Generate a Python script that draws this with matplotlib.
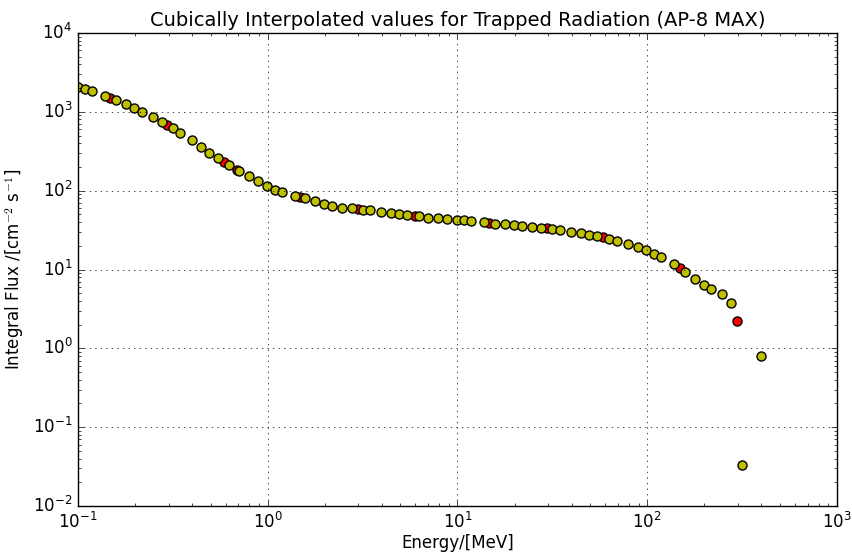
import matplotlib
matplotlib.use("Agg")
import matplotlib.pyplot as plt

plt.style.use("classic")

# Original AP-8 MAX data points (red)
orig_energy = [0.148, 0.296, 0.586, 0.688, 1.48, 2.99, 5.95, 14.7, 29.7, 58.6, 148.8, 296]
orig_flux = [1503, 682, 229, 182, 83, 58.6, 47.7, 38.9, 33.2, 25.5, 10.4, 2.21]

# Cubically interpolated values (yellow)
interp_energy = [0.100, 0.109, 0.118, 0.138, 0.159, 0.178, 0.197, 0.217, 0.248, 0.277,
                 0.316, 0.346, 0.397, 0.446, 0.489, 0.545, 0.625, 0.703, 0.792, 0.891,
                 0.99, 1.09, 1.19, 1.39, 1.58, 1.78, 1.99, 2.18, 2.47, 2.77,
                 3.17, 3.47, 3.96, 4.45, 4.92, 5.42, 6.24, 6.98, 7.91, 8.82,
                 9.88, 10.8, 11.8, 13.8, 15.8, 17.8, 19.8, 21.9, 24.7, 27.7,
                 31.5, 34.8, 39.8, 44.6, 49.3, 54.3, 62.5, 69.5, 79.1, 88.9,
                 98.7, 108.7, 118.8, 138.4, 157.9, 177.5, 198, 218, 247, 277,
                 317, 396]
interp_flux = [2090, 1970, 1845, 1607, 1418, 1262, 1123, 1007, 863, 752,
               618, 540, 435, 362, 304, 262, 209, 179.5, 155, 133,
               116, 103, 96, 85.7, 79.8, 74, 68.4, 64.5, 60.8, 59.6,
               57.4, 56.3, 54.1, 52.6, 50.6, 49.1, 47.1, 45.0, 45.0, 44.0,
               42.8, 42.0, 41.6, 39.6, 38.1, 37.3, 36.6, 36.0, 34.9, 33.9,
               32.6, 31.7, 29.9, 28.7, 27.6, 26.6, 24.5, 23.2, 21.0, 19.1,
               17.5, 15.8, 14.4, 11.6, 9.36, 7.63, 6.35, 5.59, 4.82, 3.71,
               0.0334, 0.80]

fig = plt.figure(figsize=(8.53, 5.54), dpi=100, facecolor="white")
ax = fig.add_axes([78/853, 1-506/554, 759/853, 473/554])

ax.loglog(orig_energy, orig_flux, "ro", markersize=6.5, markeredgewidth=1)
ax.loglog(interp_energy, interp_flux, "yo", markersize=6.5, markeredgewidth=1)

ax.set_xlim(0.1, 1000)
ax.set_ylim(0.01, 1e4)
ax.grid(True)
ax.set_title("Cubically Interpolated values for Trapped Radiation (AP-8 MAX)", fontsize=14)
ax.set_xlabel("Energy/[MeV]", fontsize=12, labelpad=2)
ax.set_ylabel("Integral Flux /[cm$^{-2}$ s$^{-1}$]", fontsize=12)
ax.tick_params(labelsize=12)

fig.savefig("out.png", dpi=100, facecolor="white")
